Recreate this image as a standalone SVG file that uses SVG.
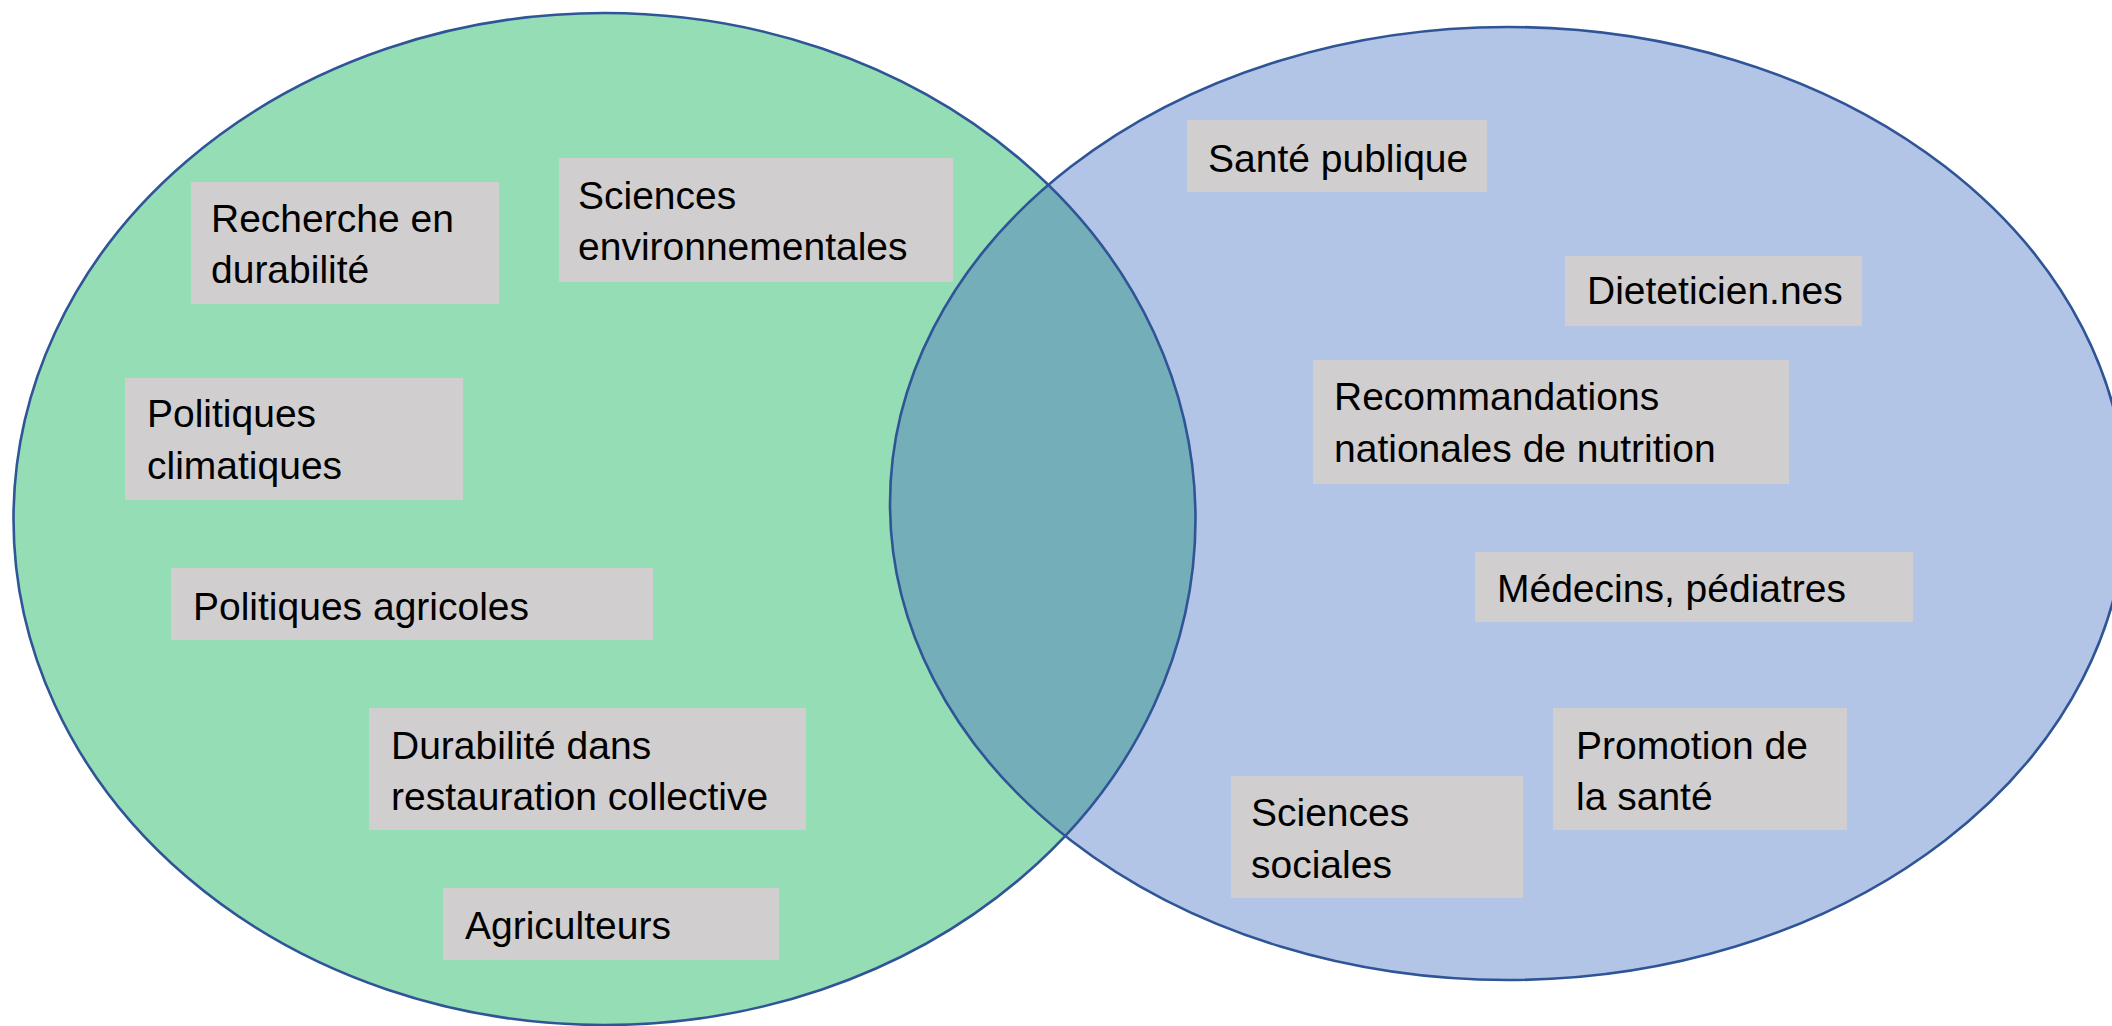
<svg xmlns="http://www.w3.org/2000/svg" width="2112" height="1026" viewBox="0 0 2112 1026">
<style>
.box{fill:#D0CECE;}
.lbl{font-family:"Liberation Sans",Arial,sans-serif;font-size:39px;fill:#000;}
.edge{fill:none;stroke:#2F5597;stroke-width:2.6;}
</style>
<defs>
<clipPath id="clipLeft"><ellipse cx="604.5" cy="519" rx="591" ry="506"/></clipPath>
</defs>
<rect width="2112" height="1026" fill="#FFFFFF"/>
<g id="sets">
<ellipse id="set-durabilite" cx="604.5" cy="519" rx="591" ry="506" fill="#95DDB5"/>
<ellipse id="set-sante" cx="1508" cy="503.5" rx="618" ry="476.5" fill="#B3C5E7"/>
<ellipse id="set-overlap" cx="1508" cy="503.5" rx="618" ry="476.5" fill="#74AFB9" clip-path="url(#clipLeft)"/>
<ellipse cx="604.5" cy="519" rx="591" ry="506" class="edge"/>
<ellipse cx="1508" cy="503.5" rx="618" ry="476.5" class="edge"/>
</g>
<g id="connectors"/>
<g id="n-recherche"><rect class="box" x="191" y="182" width="308" height="122"/><text class="lbl" x="211" y="232">Recherche en</text><text class="lbl" x="211" y="283">durabilité</text></g>
<g id="n-sciences-env"><rect class="box" x="559" y="158" width="394" height="124"/><text class="lbl" x="578" y="209">Sciences</text><text class="lbl" x="578" y="260">environnementales</text></g>
<g id="n-pol-clim"><rect class="box" x="125" y="378" width="338" height="122"/><text class="lbl" x="147" y="427">Politiques</text><text class="lbl" x="147" y="479">climatiques</text></g>
<g id="n-pol-agri"><rect class="box" x="171" y="568" width="482" height="72"/><text class="lbl" x="193" y="620">Politiques agricoles</text></g>
<g id="n-restauration"><rect class="box" x="369" y="708" width="437" height="122"/><text class="lbl" x="391" y="759">Durabilité dans</text><text class="lbl" x="391" y="810">restauration collective</text></g>
<g id="n-agriculteurs"><rect class="box" x="443" y="888" width="336" height="72"/><text class="lbl" x="465" y="939">Agriculteurs</text></g>
<g id="n-sante-publique"><rect class="box" x="1187" y="120" width="300" height="72"/><text class="lbl" x="1208" y="172">Santé publique</text></g>
<g id="n-dieteticiens"><rect class="box" x="1565" y="256" width="297" height="70"/><text class="lbl" x="1587" y="304">Dieteticien.nes</text></g>
<g id="n-recommandations"><rect class="box" x="1313" y="360" width="476" height="124"/><text class="lbl" x="1334" y="410">Recommandations</text><text class="lbl" x="1334" y="462">nationales de nutrition</text></g>
<g id="n-medecins"><rect class="box" x="1475" y="552" width="438" height="70"/><text class="lbl" x="1497" y="602">Médecins, pédiatres</text></g>
<g id="n-promotion"><rect class="box" x="1553" y="708" width="294" height="122"/><text class="lbl" x="1576" y="759">Promotion de</text><text class="lbl" x="1576" y="810">la santé</text></g>
<g id="n-sciences-soc"><rect class="box" x="1231" y="776" width="292" height="122"/><text class="lbl" x="1251" y="826">Sciences</text><text class="lbl" x="1251" y="878">sociales</text></g>
</svg>
